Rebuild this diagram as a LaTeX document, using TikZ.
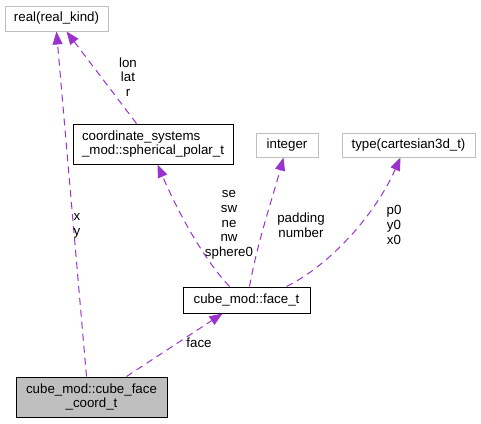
\documentclass[tikz,border=0pt]{standalone}
\usepackage{fontspec}
\setmainfont{Liberation Sans}
\usetikzlibrary{arrows.meta}
\definecolor{edgepurple}{HTML}{9A32CD}
\definecolor{boxgray}{HTML}{BFBFBF}
\tikzset{
  cls/.style={draw=black, line width=1pt, rectangle, inner sep=0pt, font=\fontsize{13.3}{14.7}\selectfont},
  ext/.style={draw=boxgray, line width=1pt, rectangle, inner sep=0pt, font=\fontsize{13.3}{14.7}\selectfont},
  dep/.style={draw=edgepurple, line width=1pt, dash pattern=on 7pt off 5pt,
    -{Triangle[length=13pt,width=10pt,fill=edgepurple]}},
  lbl/.style={inner sep=0pt, align=center, font=\fontsize{13.3}{14.7}\selectfont}
}
\begin{document}
\begin{tikzpicture}[x=1pt,y=-1pt]
\useasboundingbox (0,0) rectangle (481,423);
% nodes
\node[ext, minimum width=103pt, minimum height=25pt] (real) at (56.5,18.5) {real(real\_kind)};
\node[cls, minimum width=160pt, minimum height=40pt, align=left] (coord) at (153,144) {coordinate\_systems\\\_mod::spherical\_polar\_t};
\node[ext, minimum width=62pt, minimum height=24pt] (int) at (287,145) {integer};
\node[ext, minimum width=133pt, minimum height=24pt] (cart) at (408.5,145) {type(cartesian3d\_t)};
\node[cls, minimum width=127pt, minimum height=26pt] (face) at (246.5,300) {cube\_mod::face\_t};
\node[cls, fill=boxgray, minimum width=151pt, minimum height=40pt, align=center] (cube) at (91.5,397) {cube\_mod::cube\_face\\\_coord\_t};
% edges
\draw[dep] ([xshift=71pt]cube.north west) -- ([xshift=52pt]real.south west);
\draw[dep] ([xshift=64pt]coord.north west) -- ([xshift=62pt]real.south west);
\draw[dep] ([xshift=47pt]face.north west) .. controls (200,255) and (175,205) .. ([xshift=85pt]coord.south west);
\draw[dep] ([xshift=67pt]face.north west) .. controls (258,240) and (272,200) .. ([xshift=28pt]int.south west);
\draw[dep] ([xshift=104pt]face.north west) .. controls (330,265) and (375,215) .. ([xshift=59pt]cart.south west);
\draw[dep] ([xshift=111pt]cube.north west) -- ([xshift=40pt]face.south west);
% labels
\node[lbl] (l1) at (128,77) {lon\\lat\\r};
\node[lbl] (l2) at (77,226) {x\\y};
\node[lbl] (l3) at (229,225) {se\\sw\\ne\\nw\\sphere0};
\node[lbl] (l4) at (301,225) {padding\\number};
\node[lbl] (l5) at (394,225) {p0\\y0\\x0};
\node[lbl] (l6) at (199,343) {face};
\end{tikzpicture}
\end{document}
